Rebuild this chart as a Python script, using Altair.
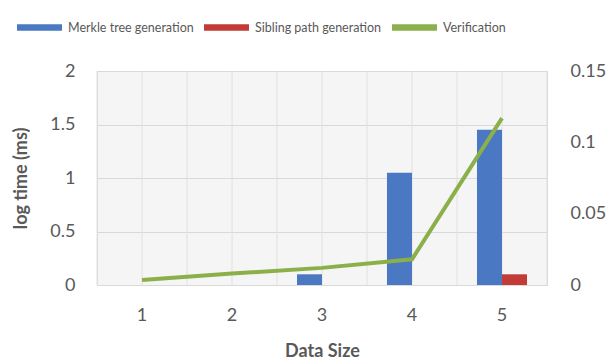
import altair as alt
import pandas as pd

sizes = ["1", "2", "3", "4", "5"]
merkle = [0.0, 0.0, 0.1, 1.05, 1.45]
sibling = [0.0, 0.0, 0.0, 0.0, 0.1]
verification = [0.0035, 0.008, 0.012, 0.018, 0.117]
series_names = ["Merkle tree generation", "Sibling path generation", "Verification"]
colors = ["#4a78c2", "#c23b36", "#8bb04a"]
left_ticks = [0, 0.5, 1, 1.5, 2]
right_ticks = [0, 0.05, 0.1, 0.15]
grid_pos = [0, 0.5, 1, 1.5, 2, 2.5, 3, 3.5, 4, 4.5, 5]

bars_df = pd.DataFrame(
    {
        "size": sizes * 2,
        "series": [series_names[0]] * 5 + [series_names[1]] * 5,
        "value": merkle + sibling,
    }
)
line_df = pd.DataFrame({"size": sizes, "series": [series_names[2]] * 5, "value": verification})
grid_df = pd.DataFrame({"g": grid_pos})

TXT = "#595959"
FONT = "Lato"

RECT = "M-1,-0.14L1,-0.14L1,0.14L-1,0.14Z"

color = alt.Color(
    "series:N",
    scale=alt.Scale(domain=series_names, range=colors),
    legend=alt.Legend(
        orient="none",
        legendX=-80,
        legendY=-66,
        direction="horizontal",
        columns=3,
        title=None,
        symbolType=RECT,
        symbolSize=2025,
        symbolStrokeWidth=0,
        labelFontSize=12.5,
        labelFont=FONT,
        labelColor=TXT,
        labelOffset=6,
        columnPadding=10,
    ),
)

band = alt.Scale(domain=sizes, paddingInner=0.444, paddingOuter=0.222)

rules = alt.Chart(grid_df).mark_rule(color="#e0e0e0", strokeWidth=1).encode(
    x=alt.X("g:Q", scale=alt.Scale(domain=[0, 5], nice=False, zero=False), axis=None)
)

bars = alt.Chart(bars_df).mark_bar().encode(
    x=alt.X(
        "size:N",
        scale=band,
        sort=sizes,
        axis=alt.Axis(
            title="Data Size",
            labelAngle=0,
            labelFontSize=18,
            labelColor=TXT,
            labelFont=FONT,
            labelPadding=21,
            ticks=False,
            domain=False,
            grid=False,
            titleFontSize=18,
            titleFont=FONT,
            titleFontWeight="bold",
            titleColor=TXT,
            titlePadding=18,
        ),
    ),
    xOffset=alt.XOffset("series:N", scale=alt.Scale(domain=series_names[:2])),
    y=alt.Y(
        "value:Q",
        scale=alt.Scale(domain=[0, 2], nice=False),
        axis=alt.Axis(
            title="log time (ms)",
            values=left_ticks,
            format="~g",
            labelFontSize=18,
            labelColor=TXT,
            labelFont=FONT,
            labelPadding=22,
            ticks=False,
            domain=False,
            grid=True,
            gridColor="#d9d9d9",
            titleFontSize=18,
            titleFont=FONT,
            titleFontWeight="bold",
            titleColor=TXT,
            titlePadding=19,
        ),
    ),
    color=color,
)

line = alt.Chart(line_df).mark_line(strokeWidth=4).encode(
    x=alt.X("size:N", scale=band, sort=sizes, axis=None),
    y=alt.Y(
        "value:Q",
        scale=alt.Scale(domain=[0, 0.15], nice=False),
        axis=alt.Axis(
            title=None,
            orient="right",
            values=right_ticks,
            format=".2~f",
            labelFontSize=18,
            labelColor=TXT,
            labelFont=FONT,
            labelPadding=23,
            ticks=False,
            domain=False,
            grid=False,
        ),
    ),
    color=color,
)

chart = (
    alt.layer(rules, bars, line)
    .resolve_scale(x="independent", y="independent")
    .properties(
        width=450,
        height=214,
        autosize=alt.AutoSizeParams(type="none"),
        padding={"left": 97, "top": 71, "right": 67, "bottom": 76},
        background="white",
    )
    .configure_view(fill="#f5f5f5", stroke="#d9d9d9")
)

chart.save("out.html", embed_options={"renderer": "svg", "actions": False})
